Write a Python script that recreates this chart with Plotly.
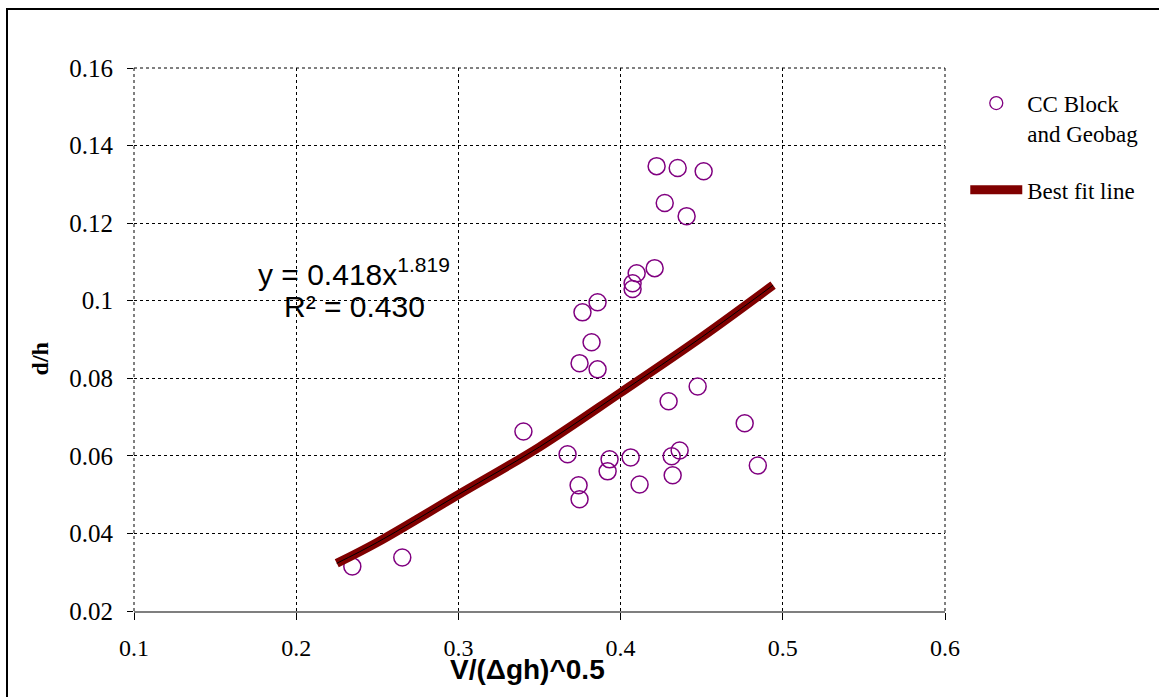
import plotly.graph_objects as go

# Observed data: CC Block and Geobag
obs_x = [0.2346, 0.2654, 0.3401, 0.3673, 0.3741, 0.3747, 0.3747, 0.3765, 0.3821, 0.3858,
         0.3858, 0.3920, 0.3932, 0.4062, 0.4117, 0.4074, 0.4074, 0.4099, 0.4210, 0.4222,
         0.4272, 0.4296, 0.4315, 0.4321, 0.4352, 0.4364, 0.4407, 0.4475, 0.4512, 0.4765,
         0.4846]
obs_y = [0.0315, 0.0338, 0.0663, 0.0604, 0.0524, 0.0488, 0.0839, 0.0970, 0.0893, 0.0996,
         0.0823, 0.0560, 0.0591, 0.0596, 0.0526, 0.1045, 0.1030, 0.1071, 0.1084, 0.1347,
         0.1252, 0.0741, 0.0599, 0.0550, 0.1342, 0.0614, 0.1218, 0.0779, 0.1334, 0.0684,
         0.0575]

# Best fit line
fit_x = [0.225, 0.25, 0.30, 0.35, 0.40, 0.45, 0.494]
fit_y = [0.0323, 0.0377, 0.0500, 0.0623, 0.0763, 0.0906, 0.1040]

x_ticks = [0.1, 0.2, 0.3, 0.4, 0.5, 0.6]
y_ticks = [0.02, 0.04, 0.06, 0.08, 0.10, 0.12, 0.14, 0.16]
x_labels = ["0.1", "0.2", "0.3", "0.4", "0.5", "0.6"]
y_labels = ["0.02", "0.04", "0.06", "0.08", "0.1", "0.12", "0.14", "0.16"]

SERIF = "Liberation Serif, Times New Roman, serif"
SANS = "Liberation Sans, Arial, sans-serif"
PURPLE = "#800080"
MAROON = "#800000"

fig = go.Figure()

# data markers
fig.add_trace(go.Scatter(
    x=obs_x, y=obs_y, mode="markers", showlegend=False,
    marker=dict(symbol="circle-open", size=17, color=PURPLE, line=dict(width=1.5, color=PURPLE)),
))
# legend entry for markers (smaller symbol as in the reference legend)
fig.add_trace(go.Scatter(
    x=[None], y=[None], mode="markers", name="CC Block<br>and Geobag", legendgroup="a",
    marker=dict(symbol="circle-open", size=13, color=PURPLE, line=dict(width=1.3, color=PURPLE)),
))
fig.add_trace(go.Scatter(
    x=fit_x, y=fit_y, mode="lines", name="Best fit line", legendgroup="b",
    line=dict(color=MAROON, width=9, shape="spline"),
))
fig.add_trace(go.Scatter(
    x=fit_x, y=fit_y, mode="lines", showlegend=False,
    line=dict(color="#000000", width=1, shape="spline"),
))

fig.update_layout(
    width=1159, height=697,
    margin=dict(l=134, r=214, t=68, b=86),
    paper_bgcolor="white", plot_bgcolor="white",
    font=dict(family=SERIF, size=24, color="black"),
    showlegend=True,
    legend=dict(
        x=1.025, y=0.975, xanchor="left", yanchor="top",
        font=dict(family=SERIF, size=23, color="black"),
        itemwidth=52, valign="top", bgcolor="rgba(0,0,0,0)",
        tracegroupgap=24,
    ),
    xaxis=dict(
        range=[0.1, 0.6], tickvals=x_ticks, ticktext=x_labels,
        showgrid=True, gridcolor="black", griddash="dot", gridwidth=1,
        ticks="outside", ticklen=7, tickcolor="black",
        showline=True, linecolor="#7f7f7f", linewidth=2,
        zeroline=False, tickfont=dict(family=SERIF, size=24),
        ticklabelstandoff=7,
    ),
    yaxis=dict(
        range=[0.02, 0.16], tickvals=y_ticks, ticktext=y_labels,
        showgrid=True, gridcolor="black", griddash="dot", gridwidth=1,
        ticks="outside", ticklen=6, tickcolor="black",
        showline=False, zeroline=False, tickfont=dict(family=SERIF, size=25),
        ticklabelstandoff=9,
    ),
)

# dotted plot-area edges (gridlines at the range ends)
for (x0, y0, x1, y1) in [(0, 1, 1, 1), (1, 0, 1, 1), (0, 0, 0, 1)]:
    fig.add_shape(type="line", xref="paper", yref="paper", x0=x0, y0=y0, x1=x1, y1=y1,
                  line=dict(color="black", width=1, dash="dot"), layer="below")

# Axis titles
fig.add_annotation(xref="paper", yref="paper", x=0.485, y=-0.107, xanchor="center", yanchor="middle",
                   text="<b>V/(Δgh)^0.5</b>", showarrow=False,
                   font=dict(family=SANS, size=28, color="black"))
fig.add_annotation(xref="paper", yref="paper", x=-0.116, y=0.465, xanchor="center", yanchor="middle",
                   text="<b>d/h</b>", textangle=-90, showarrow=False,
                   font=dict(family=SERIF, size=24, color="black"))

# Equation
fig.add_annotation(x=0.2358, y=0.1074, xref="x", yref="y", xanchor="center", yanchor="middle",
                   text="y = 0.418x<sup>1.819</sup>", showarrow=False,
                   font=dict(family=SANS, size=30, color="black"))
fig.add_annotation(x=0.2358, y=0.0985, xref="x", yref="y", xanchor="center", yanchor="middle",
                   text="R² = 0.430", showarrow=False,
                   font=dict(family=SANS, size=30, color="black"))

# Outer frame
fig.add_shape(type="rect", xref="paper", yref="paper",
              x0=(7 - 134) / 811, x1=1.5, y0=-0.5, y1=(611 - 9) / 543,
              line=dict(color="black", width=2), layer="below")

fig.write_html("out.html")
